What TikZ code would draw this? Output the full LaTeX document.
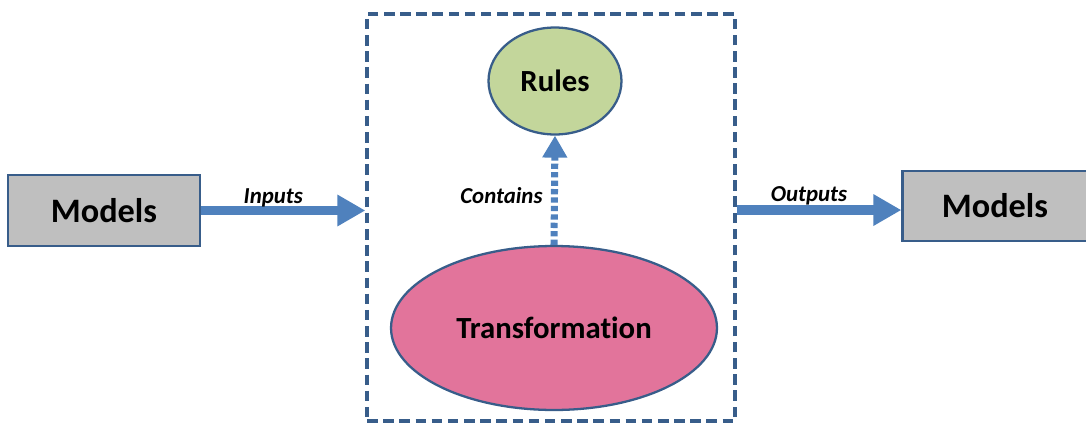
\documentclass[tikz,border=0pt]{standalone}
\usepackage{fontspec}
\setmainfont[Ligatures=NoCommon]{Carlito}
\usetikzlibrary{arrows.meta,shapes.geometric}

\definecolor{edgeblue}{HTML}{385D8A}
\definecolor{flowblue}{HTML}{4F81BD}
\definecolor{boxgray}{HTML}{BFBFBF}
\definecolor{rulegreen}{HTML}{C3D69B}
\definecolor{transpink}{HTML}{E2749B}

\tikzset{
  modelbox/.style={draw=edgeblue, line width=1.3pt, fill=boxgray,
    minimum width=3.84cm, minimum height=1.42cm, inner sep=0pt,
    font=\fontsize{19.5}{21}\selectfont\bfseries},
  blob/.style={ellipse, draw=edgeblue, line width=1.3pt, inner sep=0pt,
    font=\fontsize{17.5}{19}\selectfont\bfseries},
  flow/.style={draw=flowblue, line width=5.6pt,
    -{Triangle[length=16pt, width=17pt]}},
  holds/.style={draw=flowblue, line width=4pt, dash pattern=on 3pt off 1.8pt,
    -{Triangle[length=12.5pt, width=13.5pt]}},
  tag/.style={font=\fontsize{13}{15}\selectfont\bfseries\itshape, inner sep=2pt},
}

\begin{document}
\begin{tikzpicture}[x=0.02cm, y=-0.02cm]
  \useasboundingbox (0,0) rectangle (1086,423);

  % the transformation frame
  \node[draw=edgeblue, line width=1.9pt, dash pattern=on 6pt off 3.2pt,
    minimum width=7.36cm, minimum height=8.14cm] (frame) at (551,217.5) {};

  \node[blob, fill=rulegreen, minimum width=2.66cm, minimum height=2.14cm]
    (rules) at (555,81) {Rules};
  \node[blob, fill=transpink, minimum width=6.52cm, minimum height=3.28cm]
    (trans) at (554,328) {Transformation};

  % models in and out
  \node[modelbox] (srcmodels) at (104,210.5) {Models};
  \node[modelbox, minimum width=3.7cm, minimum height=1.4cm]
    (dstmodels) at (995,206) {Models};

  \draw[flow] (srcmodels.east) -- (frame.west |- srcmodels.east)
    node[tag, midway, above, xshift=-0.2cm, yshift=-2.6pt] {Inputs};
  \draw[flow] ([yshift=-2.3pt]frame.east |- dstmodels.west) -- ([yshift=-2.3pt]dstmodels.west)
    node[tag, midway, above, xshift=-0.2cm, yshift=-2.2pt] {Outputs};
  \draw[holds] (trans.north) -- (rules.south)
    node[tag, midway, left, xshift=-0.1cm, yshift=-2.8pt] {Contains};
\end{tikzpicture}
\end{document}
